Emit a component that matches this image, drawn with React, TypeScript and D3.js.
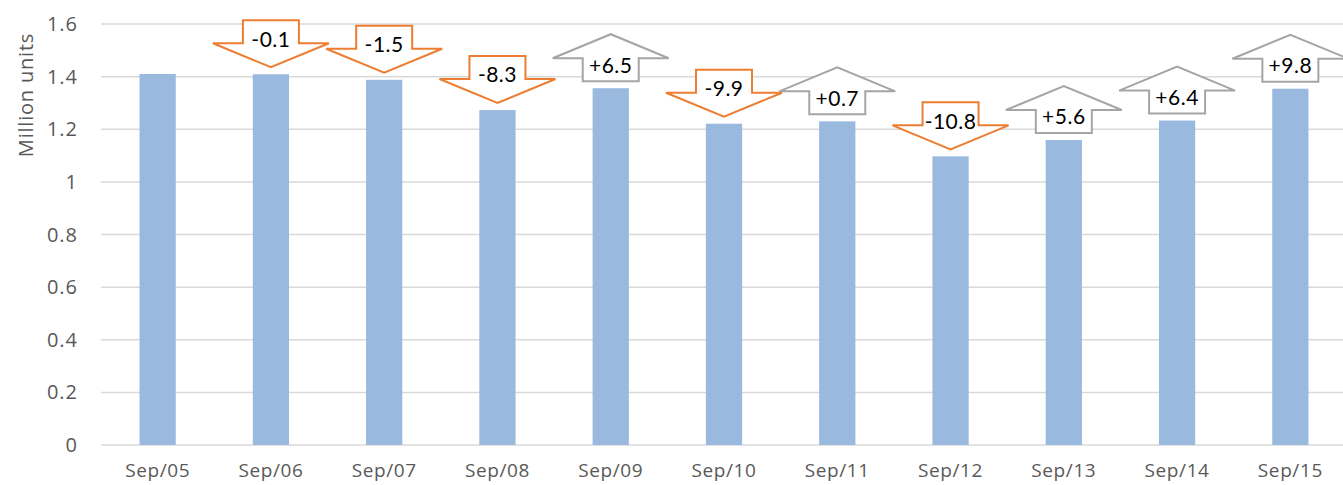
import React from 'react';
import * as d3 from 'd3';

const months = ['Sep/05', 'Sep/06', 'Sep/07', 'Sep/08', 'Sep/09', 'Sep/10', 'Sep/11', 'Sep/12', 'Sep/13', 'Sep/14', 'Sep/15'];
const units = [1.41, 1.409, 1.388, 1.273, 1.356, 1.221, 1.23, 1.097, 1.159, 1.233, 1.354];
const changes = [null, -0.1, -1.5, -8.3, 6.5, -9.9, 0.7, -10.8, 5.6, 6.4, 9.8];
const yTicks = [0, 0.2, 0.4, 0.6, 0.8, 1, 1.2, 1.4, 1.6];

const settings = {
  width: 1343,
  height: 485,
  left: 101,
  right: 1347,
  top: 24,
  bottom: 445
};

const barColor = '#99b9df';
const gridColor = '#d9d9d9';
const downColor = '#ed7d31';
const upColor = '#a5a5a5';
const textColor = '#595959';

// arrow geometry, relative to bar center / gap above bar
const headW = 116, boxW = 56, headH = 24, boxH = 23, gap = 7;

function downArrow(cx: number, tip: number) {
  const headTop = tip - headH;
  const boxTop = headTop - boxH;
  return [
    [cx - boxW / 2, boxTop], [cx + boxW / 2, boxTop], [cx + boxW / 2, headTop],
    [cx + headW / 2, headTop], [cx, tip], [cx - headW / 2, headTop], [cx - boxW / 2, headTop]
  ];
}

function upArrow(cx: number, base: number) {
  const headBase = base - boxH;
  const tip = headBase - headH;
  return [
    [cx - boxW / 2, base], [cx + boxW / 2, base], [cx + boxW / 2, headBase],
    [cx + headW / 2, headBase], [cx, tip], [cx - headW / 2, headBase], [cx - boxW / 2, headBase]
  ];
}

export default function App() {
  const x = d3.scaleBand<string>()
    .domain(months)
    .range([settings.left, settings.right])
    .paddingInner(0.68)
    .paddingOuter(0.34);

  const y = d3.scaleLinear()
    .domain([0, 1.6])
    .range([settings.bottom, settings.top]);

  const line = d3.line();

  return (
    <svg width={settings.width} height={settings.height}
      style={{ position: 'absolute', left: 0, top: 0, display: 'block' }}>
      {yTicks.map(t => (
        <g key={t}>
          <line x1={settings.left} x2={settings.width} y1={y(t)} y2={y(t)}
            stroke={gridColor} strokeWidth={1.5} />
          <text x={78} y={y(t)} dy="0.35em" textAnchor="end" fill={textColor}
            fontFamily="'Open Sans', sans-serif" fontSize={20} letterSpacing={1}>{t}</text>
        </g>
      ))}
      <text transform={`translate(33,95) rotate(-90)`} textAnchor="middle" fill={textColor}
        fontFamily="'Open Sans', sans-serif" fontSize={20} letterSpacing={0.8}>Million units</text>

      {months.map((m, i) => {
        const bx = x(m) as number;
        const cx = bx + x.bandwidth() / 2;
        const top = y(units[i]);
        const c = changes[i];
        let arrow = null;
        if (c !== null) {
          const down = c < 0;
          const pts = down ? downArrow(cx, top - gap) : upArrow(cx, top - gap);
          const ty = down ? top - gap - 28 : top - gap - 16;
          arrow = (
            <g>
              <path d={line(pts as [number, number][]) + 'Z'} fill="#fff"
                stroke={down ? downColor : upColor} strokeWidth={2} strokeLinejoin="miter" />
              <text x={cx} y={ty} dy="0.35em" textAnchor="middle" fill="#000"
                fontFamily="Lato, sans-serif" fontSize={21} letterSpacing={0.5}>{(c > 0 ? '+' : '') + c.toFixed(1)}</text>
            </g>
          );
        }
        return (
          <g key={m}>
            <rect x={bx} y={top} width={x.bandwidth()} height={settings.bottom - top} fill={barColor} />
            {arrow}
            <text x={cx} y={477} textAnchor="middle" fill={textColor}
              fontFamily="'Open Sans', sans-serif" fontSize={19} letterSpacing={0.6}>{m}</text>
          </g>
        );
      })}
    </svg>
  );
}
